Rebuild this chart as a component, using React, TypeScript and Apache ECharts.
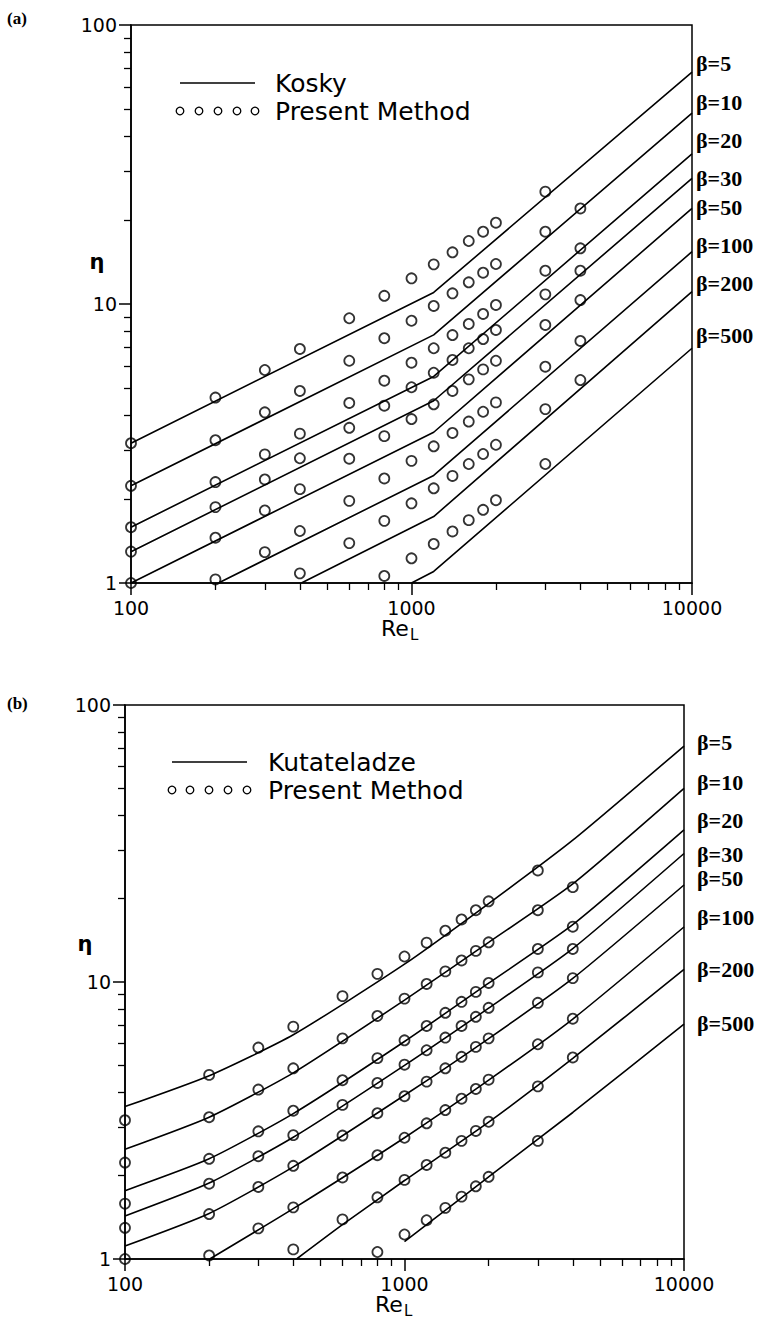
import React, { useEffect, useRef } from "react";
import * as echarts from "echarts";

// ---------- data ----------
const BETA_LABELS = ["β=5", "β=10", "β=20", "β=30", "β=50", "β=100", "β=200", "β=500"];
const X_MINOR_TICKS = [200, 300, 400, 500, 600, 700, 800, 900, 2000, 3000, 4000, 5000, 6000, 7000, 8000, 9000];
const Y_MINOR_TICKS = [2, 3, 4, 5, 6, 7, 8, 9, 20, 30, 40, 50, 60, 70, 80, 90];

// Present Method (circles), same in both panels
const RE_PRESENT = [100, 200, 300, 400, 600, 800, 1000, 1200, 1400, 1600, 1800, 2000, 3000, 4000];
const PRESENT_B5 = [3.17, 4.62, 5.8, 6.9, 8.89, 10.7, 12.36, 13.87, 15.32, 16.82, 18.16, 19.56, 25.27, null];
const PRESENT_B10 = [2.23, 3.25, 4.09, 4.88, 6.26, 7.54, 8.71, 9.84, 10.92, 11.96, 12.95, 13.91, 18.16, 22.0];
const PRESENT_B20 = [1.585, 2.3, 2.89, 3.43, 4.42, 5.31, 6.16, 6.94, 7.74, 8.48, 9.21, 9.92, 13.16, 15.84];
const PRESENT_B30 = [1.296, 1.87, 2.35, 2.8, 3.6, 4.32, 5.03, 5.67, 6.3, 6.94, 7.49, 8.07, 10.83, 13.16];
const PRESENT_B50 = [1.0, 1.453, 1.82, 2.17, 2.79, 3.36, 3.87, 4.37, 4.88, 5.37, 5.83, 6.26, 8.41, 10.33];
const PRESENT_B100 = [null, 1.03, 1.29, 1.536, 1.97, 2.37, 2.74, 3.09, 3.45, 3.79, 4.11, 4.44, 5.96, 7.37];
const PRESENT_B200 = [null, null, null, 1.083, 1.39, 1.67, 1.93, 2.185, 2.42, 2.67, 2.9, 3.13, 4.2, 5.34];
const PRESENT_B500 = [null, null, null, null, null, 1.06, 1.226, 1.38, 1.53, 1.68, 1.83, 1.98, 2.67, null];
const PRESENT = [PRESENT_B5, PRESENT_B10, PRESENT_B20, PRESENT_B30, PRESENT_B50, PRESENT_B100, PRESENT_B200, PRESENT_B500];

// Kosky (panel a) – [Re, eta]
const KOSKY_B5 = [[100, 3.17], [1200, 11.0], [10000, 67.8]];
const KOSKY_B10 = [[100, 2.23], [1200, 7.75], [10000, 48.3]];
const KOSKY_B20 = [[100, 1.585], [1200, 5.5], [10000, 34.5]];
const KOSKY_B30 = [[100, 1.295], [1200, 4.5], [10000, 28.2]];
const KOSKY_B50 = [[100, 1.0], [1200, 3.47], [10000, 22.0]];
const KOSKY_B100 = [[205, 1.0], [1200, 2.43], [10000, 15.4]];
const KOSKY_B200 = [[405, 1.0], [1200, 1.73], [10000, 11.07]];
const KOSKY_B500 = [[1000, 1.0], [1200, 1.1], [10000, 6.94]];
const KOSKY = [KOSKY_B5, KOSKY_B10, KOSKY_B20, KOSKY_B30, KOSKY_B50, KOSKY_B100, KOSKY_B200, KOSKY_B500];

// Kutateladze (panel b) – [Re, eta]
const KUT_B5 = [[100, 3.55], [200, 4.59], [400, 6.45], [1000, 11.6], [2000, 19.2], [4000, 32.5], [10000, 71.1]];
const KUT_B10 = [[100, 2.49], [200, 3.25], [400, 4.7], [1000, 8.6], [2000, 13.9], [4000, 22.6], [10000, 50.0]];
const KUT_B20 = [[100, 1.765], [200, 2.3], [400, 3.35], [1000, 6.1], [2000, 9.9], [4000, 16.1], [10000, 35.4]];
const KUT_B30 = [[100, 1.43], [200, 1.88], [400, 2.75], [1000, 5.0], [2000, 8.05], [4000, 13.2], [10000, 29.1]];
const KUT_B50 = [[100, 1.114], [200, 1.46], [400, 2.15], [1000, 3.9], [2000, 6.25], [4000, 10.3], [10000, 22.4]];
const KUT_B100 = [[201, 1.0], [400, 1.52], [1000, 2.74], [2000, 4.42], [4000, 7.35], [10000, 15.8]];
const KUT_B200 = [[411, 1.0], [600, 1.33], [1000, 1.92], [2000, 3.12], [4000, 5.3], [10000, 11.1]];
const KUT_B500 = [[1000, 1.155], [2000, 1.98], [4000, 3.38], [10000, 7.05]];
const KUT = [KUT_B5, KUT_B10, KUT_B20, KUT_B30, KUT_B50, KUT_B100, KUT_B200, KUT_B500];

// ---------- layout ----------
const GRID_A = { left: 131, top: 25, width: 561, height: 558 };
const GRID_B = { left: 125, top: 705, width: 559, height: 554 };
const LABEL_Y_A = [63, 102, 140, 178, 207, 245, 283, 335];
const LABEL_Y_B = [742, 782, 820, 854, 878, 917, 969, 1023];

const TICK_FONT = "DejaVu Sans";
const BLACK = "#000";

function mainX(gridIndex: number) {
  return {
    type: "log", logBase: 10, min: 100, max: 10000, gridIndex, position: "bottom",
    axisLine: { lineStyle: { color: BLACK, width: 1.6 } },
    axisTick: { inside: false, length: 12, lineStyle: { color: BLACK, width: 1.5 } },
    axisLabel: { margin: 15, fontFamily: TICK_FONT, fontSize: 19, color: BLACK, formatter: (v: number) => String(Math.round(v)) },
    splitLine: { show: false },
  };
}
function minorX(gridIndex: number) {
  return {
    type: "log", logBase: 10, min: 100, max: 10000, gridIndex, position: "bottom",
    axisLine: { show: false },
    axisTick: { inside: false, length: 7, customValues: X_MINOR_TICKS, lineStyle: { color: BLACK, width: 1.3 } },
    axisLabel: { show: false },
    splitLine: { show: false },
  };
}
function mainY(gridIndex: number) {
  return {
    type: "log", logBase: 10, min: 1, max: 100, gridIndex, position: "left",
    axisLine: { lineStyle: { color: BLACK, width: 1.6 } },
    axisTick: { inside: false, length: 12, lineStyle: { color: BLACK, width: 1.5 } },
    axisLabel: { margin: 14, fontFamily: TICK_FONT, fontSize: 19, color: BLACK, formatter: (v: number) => String(Math.round(v)) },
    splitLine: { show: false },
  };
}
function minorY(gridIndex: number) {
  return {
    type: "log", logBase: 10, min: 1, max: 100, gridIndex, position: "left",
    axisLine: { show: false },
    axisTick: { inside: false, length: 7, customValues: Y_MINOR_TICKS, lineStyle: { color: BLACK, width: 1.3 } },
    axisLabel: { show: false },
    splitLine: { show: false },
  };
}

function presentPairs(vals: (number | null)[]) {
  const out: number[][] = [];
  RE_PRESENT.forEach((re, i) => {
    const v = vals[i];
    if (v != null) out.push([re, v]);
  });
  return out;
}

function legendGraphics(lineX1: number, lineX2: number, y1: number, circleXs: number[], y2: number, textX: number, name: string) {
  const els: any[] = [
    { type: "line", shape: { x1: lineX1, y1, x2: lineX2, y2: y1 }, style: { stroke: BLACK, lineWidth: 1.5 } },
    { type: "text", x: textX, y: y1, style: { text: name, font: '25px "DejaVu Sans"', fill: BLACK, align: "left", verticalAlign: "middle" } },
    { type: "text", x: textX, y: y2, style: { text: "Present Method", font: '25px "DejaVu Sans"', fill: BLACK, align: "left", verticalAlign: "middle" } },
  ];
  circleXs.forEach((cx) => {
    els.push({ type: "circle", shape: { cx, cy: y2, r: 3.8 }, style: { fill: "none", stroke: BLACK, lineWidth: 1.3 } });
  });
  return els;
}

function betaLabels(x: number, ys: number[]) {
  return ys.map((y, i) => ({
    type: "text", x, y,
    style: { text: BETA_LABELS[i], font: 'bold 22px "Liberation Serif"', fill: BLACK, align: "left", verticalAlign: "middle" },
  }));
}

function reLabel(x: number, y: number) {
  return [
    { type: "text", x, y, style: { text: "Re", font: '22px "DejaVu Sans"', fill: BLACK, align: "left", verticalAlign: "middle" } },
    { type: "text", x: x + 29, y: y + 7, style: { text: "L", font: '15px "DejaVu Sans"', fill: BLACK, align: "left", verticalAlign: "middle" } },
  ];
}

export default function App() {
  const ref = useRef<HTMLDivElement>(null);
  useEffect(() => {
    if (!ref.current) return;
    const chart = echarts.init(ref.current, null, { renderer: "svg" });

    const series: any[] = [];
    KOSKY.forEach((d, i) => {
      series.push({
        type: "line", name: "Kosky " + BETA_LABELS[i], xAxisIndex: 0, yAxisIndex: 0, data: d,
        showSymbol: false, symbol: "none", silent: true,
        lineStyle: { color: BLACK, width: 1.6 },
      });
    });
    PRESENT.forEach((vals, i) => {
      series.push({
        type: "scatter", name: "Present a " + BETA_LABELS[i], xAxisIndex: 0, yAxisIndex: 0,
        data: presentPairs(vals), symbol: "circle", symbolSize: 10, silent: true,
        itemStyle: { color: "rgba(0,0,0,0)", borderColor: BLACK, borderWidth: 1.8 },
      });
    });
    KUT.forEach((d, i) => {
      series.push({
        type: "line", name: "Kutateladze " + BETA_LABELS[i], xAxisIndex: 1, yAxisIndex: 1, data: d,
        showSymbol: false, symbol: "none", silent: true, smooth: 0.2,
        lineStyle: { color: BLACK, width: 1.6 },
      });
    });
    PRESENT.forEach((vals, i) => {
      series.push({
        type: "scatter", name: "Present b " + BETA_LABELS[i], xAxisIndex: 1, yAxisIndex: 1,
        data: presentPairs(vals), symbol: "circle", symbolSize: 10, silent: true,
        itemStyle: { color: "rgba(0,0,0,0)", borderColor: BLACK, borderWidth: 1.8 },
      });
    });

    const graphics: any[] = [
      { type: "text", x: 7, y: 18, style: { text: "(a)", font: 'bold 17px "Liberation Serif"', fill: BLACK, align: "left", verticalAlign: "middle" } },
      { type: "text", x: 7, y: 703, style: { text: "(b)", font: 'bold 17px "Liberation Serif"', fill: BLACK, align: "left", verticalAlign: "middle" } },
      { type: "text", x: 97, y: 262, style: { text: "η", font: 'bold 21px "DejaVu Sans"', fill: BLACK, align: "center", verticalAlign: "middle" } },
      { type: "text", x: 85, y: 944, style: { text: "η", font: 'bold 21px "DejaVu Sans"', fill: BLACK, align: "center", verticalAlign: "middle" } },
      ...reLabel(381, 628),
      ...reLabel(375, 1304),
      ...legendGraphics(180, 255, 83, [180, 199, 218, 237, 255], 111, 275, "Kosky"),
      ...legendGraphics(172, 247, 762, [172, 190, 209, 228, 247], 790, 268, "Kutateladze"),
      ...betaLabels(696, LABEL_Y_A),
      ...betaLabels(697, LABEL_Y_B),
    ];

    chart.setOption({
      animation: false,
      backgroundColor: "#fff",
      grid: [
        { ...GRID_A, show: true, borderColor: BLACK, borderWidth: 1.5, backgroundColor: "transparent" },
        { ...GRID_B, show: true, borderColor: BLACK, borderWidth: 1.5, backgroundColor: "transparent" },
      ],
      xAxis: [mainX(0), mainX(1), minorX(0), minorX(1)],
      yAxis: [mainY(0), mainY(1), minorY(0), minorY(1)],
      series,
      graphic: graphics,
    });
    return () => chart.dispose();
  }, []);
  return <div ref={ref} style={{ position: "absolute", left: 0, top: 0, width: 765, height: 1321, background: "#fff" }} />;
}
